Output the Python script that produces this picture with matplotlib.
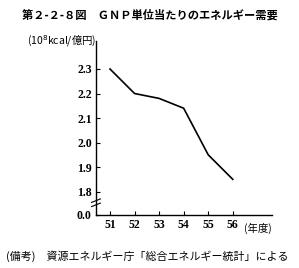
import matplotlib
matplotlib.use("Agg")
import matplotlib.pyplot as plt

years = [51, 52, 53, 54, 55, 56]
energy_per_gnp = [2.30, 2.20, 2.18, 2.14, 1.95, 1.85]

ytick_vals = [1.8, 1.9, 2.0, 2.1, 2.2, 2.3]
ytick_labels = ["1.8", "1.9", "2.0", "2.1", "2.2", "2.3"]
zero_pos = 1.705  # where the "0.0" sits below the axis break

title = "第２-２-８図　ＧＮＰ単位当たりのエネルギー需要"
unit = "(10$^8$kcal/億円)"
note = "(備考)　資源エネルギー庁「総合エネルギー統計」による"

jp = ["Noto Sans CJK JP", "DejaVu Sans"]

fig = plt.figure(figsize=(2.99, 2.68), dpi=100)
ax = fig.add_axes([0.321, 0.198, 0.589, 0.649])

ax.plot(years, energy_per_gnp, color="black", lw=1.2)

ax.set_xlim(50.43, 57.6)
ax.set_ylim(zero_pos, 2.414)
ax.set_xticks(years)
ax.set_yticks([zero_pos] + ytick_vals)
ax.set_xticklabels([str(y) for y in years])
ax.set_yticklabels(["0.0"] + ytick_labels)
for lab in ax.get_xticklabels() + ax.get_yticklabels():
    lab.set_fontfamily("Liberation Serif")
    lab.set_fontsize(8.5)
    lab.set_fontweight("bold")
ax.tick_params(direction="in", length=3, width=0.8, pad=3)

for side in ["top", "right"]:
    ax.spines[side].set_visible(False)
for side in ["left", "bottom"]:
    ax.spines[side].set_linewidth(1.0)

# axis break mark
for dy in [-0.012, 0.012]:
    ax.plot([-0.025, 0.025], [0.07 + dy - 0.01, 0.07 + dy + 0.01],
            transform=ax.transAxes, color="black", lw=0.8, clip_on=False)

ax.text(1.0, -0.075, "(年度)", transform=ax.transAxes, ha="right", va="center",
        family=jp, fontsize=7.5)
ax.text(0.0, 1.0, unit, transform=ax.transAxes, ha="right", va="center",
        family=jp, fontsize=7.5)

fig.text(0.5, 0.945, title, ha="center", va="center", family=jp,
         fontweight="bold", fontsize=8.1)
fig.text(0.02, 0.045, note, ha="left", va="center", family=jp, fontsize=7.9)

fig.savefig("out.png", dpi=100)
